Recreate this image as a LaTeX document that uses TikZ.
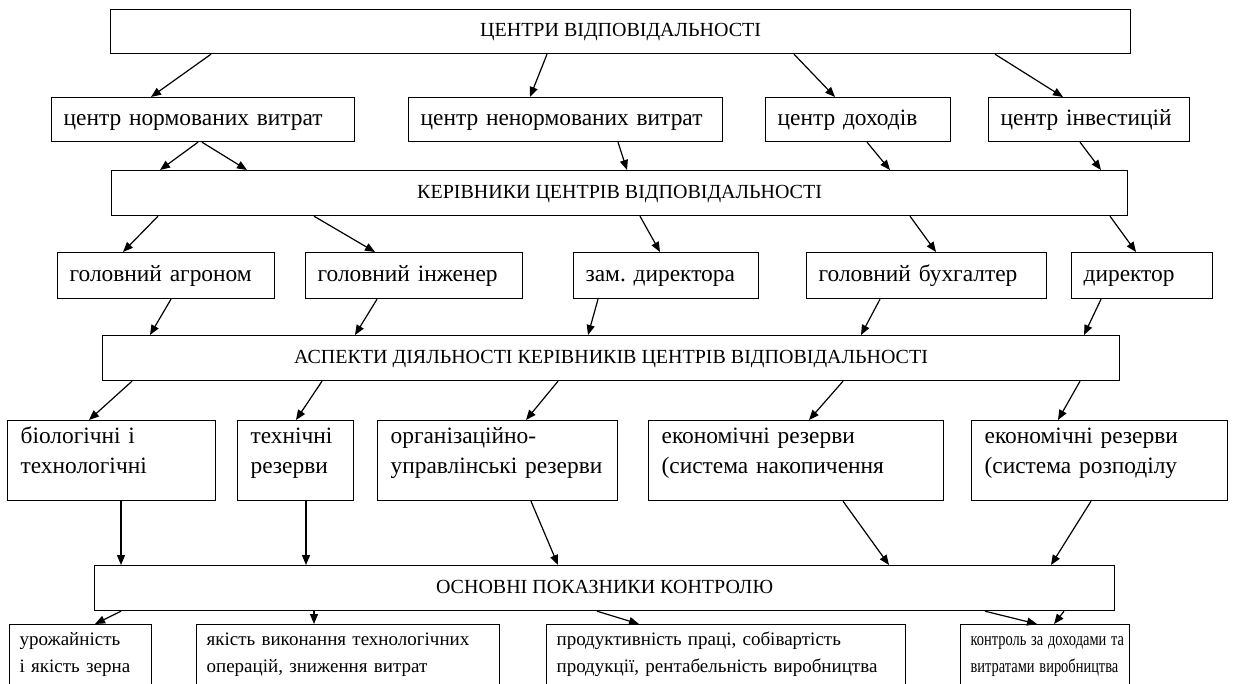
\documentclass[tikz,border=0pt]{standalone}
\usepackage{fontspec}
\usepackage{graphicx}
\setmainfont{Liberation Serif}
\usetikzlibrary{arrows.meta}
\frenchspacing

\begin{document}
\begin{tikzpicture}
[x=0.5pt,y=-0.5pt,%
  wideBox/.style={draw,line width=0.6pt,anchor=north west,inner sep=0pt,align=center,text height=7pt,text depth=2pt,font=\fontsize{10}{12}\selectfont},%
  smallBox/.style={draw,line width=0.6pt,anchor=north west,inner ysep=0pt,inner xsep=6pt,align=left,text height=8.5pt,text depth=2.5pt,font=\fontsize{11.7}{13.5}\selectfont},%
  resBox/.style={draw,line width=0.6pt,anchor=north west,inner ysep=2.5pt,inner xsep=6.5pt,align=left,text height=9pt,text depth=26pt,font=\fontsize{11.7}{15}\selectfont},%
  lowBox/.style={draw,line width=0.6pt,anchor=north west,inner ysep=3.5pt,inner xsep=5pt,align=left,text height=7pt,text depth=40pt,font=\fontsize{9.5}{13.5}\selectfont},%
  arrowLine/.style={-{Triangle[length=5pt,width=4pt]},line width=0.6pt}]
\useasboundingbox (0,0) rectangle (1240,684);
\clip (0,0) rectangle (1240,684);
%% the wide boxes
\node[wideBox,minimum width=510pt,minimum height=22pt] (top) at (110,9) {ЦЕНТРИ ВІДПОВІДАЛЬНОСТІ};
\node[wideBox,minimum width=508pt,minimum height=22.5pt] (heads) at (111,170) {КЕРІВНИКИ ЦЕНТРІВ ВІДПОВІДАЛЬНОСТІ};
\node[wideBox,minimum width=508.5pt,minimum height=22.5pt] (aspects) at (102,335) {АСПЕКТИ ДІЯЛЬНОСТІ КЕРІВНИКІВ ЦЕНТРІВ ВІДПОВІДАЛЬНОСТІ};
\node[wideBox,minimum width=510pt,minimum height=22.5pt] (ctrl) at (94,565) {ОСНОВНІ ПОКАЗНИКИ КОНТРОЛЮ};
%% centres
\foreach \name/\x/\tw/\txt in {cnorm/51/139.5/центр нормованих витрат,
  cnon/408/145/центр ненормованих витрат, cinc/765/80.5/центр доходів,
  cinv/988/88.5/центр інвестицій}
{
  \node[smallBox,text width=\tw pt,minimum height=22pt] (\name) at (\x,97) {\mbox{\txt}};
}
%% heads of the centres
\foreach \name/\x/\tw/\txt in {agro/57/96.5/головний агроном,
  eng/305/96.5/головний інженер, dep/573/80.5/зам. директора,
  acc/806/108/головний бухгалтер, dir/1071/58.5/директор}
{
  \node[smallBox,text width=\tw pt,minimum height=23pt] (\name) at (\x,252) {\mbox{\txt}};
}
%% reserves
\node[resBox,text width=91pt] (bio) at (7,420) {\mbox{біологічні і}\\\mbox{технологічні}};
\node[resBox,text width=45pt] (tech) at (237,420) {\mbox{технічні}\\\mbox{резерви}};
\node[resBox,text width=107pt] (org) at (377,420) {\mbox{організаційно-}\\\mbox{управлінські резерви}};
\node[resBox,text width=134.5pt] (ecoA) at (648,420) {\mbox{економічні резерви}\\\mbox{(система накопичення}};
\node[resBox,text width=115pt] (ecoB) at (971,420) {\mbox{економічні резерви}\\\mbox{(система розподілу}};
%% indicators
\node[lowBox,text width=61pt] (yield) at (9,624) {\mbox{урожайність}\\\mbox{і якість зерна}};
\node[lowBox,text width=141.5pt] (quality) at (196,624) {\mbox{якість виконання технологічних}\\\mbox{операцій, зниження витрат}};
\node[lowBox,text width=169.5pt] (prod) at (546,624) {\mbox{продуктивність праці, собівартість}\\\mbox{продукції, рентабельність виробництва}};
\node[lowBox,text width=74.5pt] (income) at (960,624) {\scalebox{0.76}[1]{контроль за доходами та}\\\scalebox{0.76}[1]{витратами виробництва}};
%% draw the arrows
\foreach \u/\a/\v/\b in {top/101/cnorm/100, top/437/cnon/122, top/684/cinc/70, top/885/cinv/75,
  cnorm/147/heads/49, cnorm/151/heads/136, cnon/210/heads/516, cinc/102/heads/779, cinv/92/heads/990,
  heads/47/agro/66, heads/203/eng/70, heads/529/dep/87, heads/799/acc/130, heads/999/dir/65,
  agro/114/aspects/48, eng/72/aspects/253, dep/25/aspects/486, acc/74/aspects/759, dir/30/aspects/982,
  aspects/30/bio/82, aspects/220/tech/59, aspects/456/org/149, aspects/741/ecoA/161, aspects/978/ecoB/87,
  bio/114/ctrl/27, tech/69/ctrl/212, org/154/ctrl/464, ecoA/195/ctrl/795, ecoB/120/ctrl/957,
  ctrl/27/yield/86, ctrl/220/quality/118, ctrl/503/prod/93, ctrl/891/income/77, ctrl/970/income/94}
{
  \draw[arrowLine] ([xshift=\a*0.5pt]\u.south west) -- ([xshift=\b*0.5pt]\v.north west);
}
\end{tikzpicture}
\end{document}
